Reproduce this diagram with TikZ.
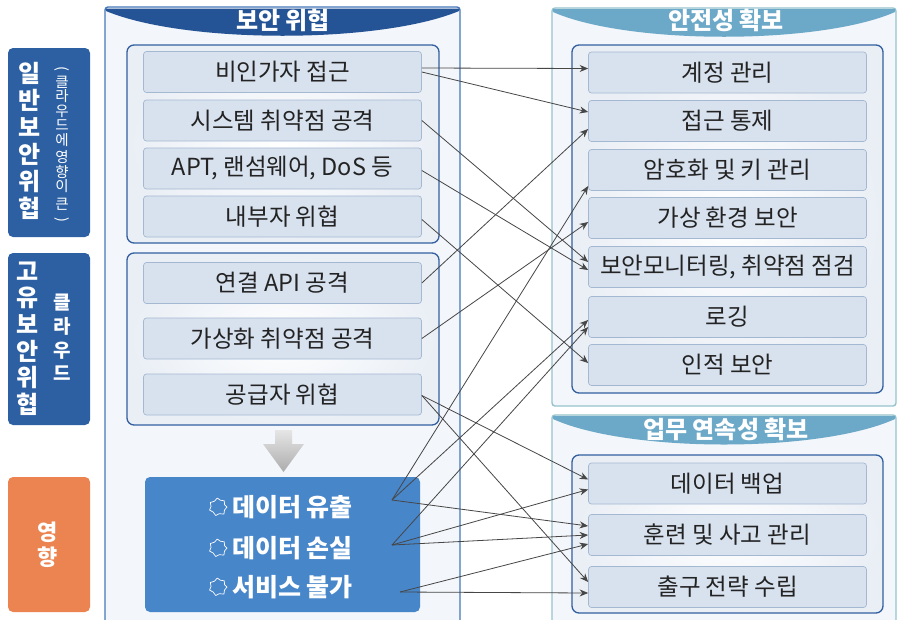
\documentclass[tikz,border=0pt]{standalone}
\usepackage{fontspec}
\usepackage{graphicx}
\setmainfont{Noto Sans CJK KR}
\usetikzlibrary{arrows.meta,calc}
\definecolor{lblblue}{RGB}{45,96,163}
\definecolor{lblorange}{RGB}{236,132,82}
\definecolor{midhdr}{RGB}{37,84,150}
\definecolor{midline}{RGB}{70,120,185}
\definecolor{rhdr}{RGB}{108,168,200}
\definecolor{rline}{RGB}{150,195,205}
\definecolor{panelfill}{RGB}{243,246,250}
\definecolor{grpfill}{RGB}{238,242,247}
\definecolor{grpline}{RGB}{50,95,160}
\definecolor{itemfill}{RGB}{216,226,239}
\definecolor{itemline}{RGB}{165,184,210}
\definecolor{impact}{RGB}{72,134,202}
\definecolor{txt}{RGB}{35,35,35}
\definecolor{arrowgray}{RGB}{70,70,70}
\begin{document}
\begin{tikzpicture}[x=1pt,y=-1pt,
  item/.style={draw=itemline, fill=itemfill, rounded corners=3pt, line width=0.7pt,
    minimum width=278pt, minimum height=41pt, inner sep=0pt,
    font=\fontsize{23.5}{26}\selectfont, text=txt},
  grp/.style={draw=grpline, inner color=white, outer color=grpfill!80!itemfill, line width=1.3pt, rounded corners=7pt},
  lblbox/.style={rounded corners=5pt, minimum width=82pt, inner sep=0pt},
  vtext/.style={text=white, align=center, inner sep=0pt},
  hdrtext/.style={text=white, font=\bfseries\fontsize{24}{26}\selectfont, inner sep=0pt},
  imptxt/.style={text=white, font=\bfseries\fontsize{25}{27}\selectfont, inner sep=0pt, anchor=west},
  icon/.style={draw=white, line width=0.7pt, line join=round},
  conn/.style={draw=arrowgray, line width=0.8pt, -{Stealth[length=8.5pt,width=7pt]}}
]
\clip (0,0) rectangle (900,619);
\fill[white] (0,0) rectangle (900,619);

% left labels
\node[lblbox, fill=lblblue, minimum height=189pt] (L1) at (49,142.5) {};
\node[vtext, font=\bfseries\fontsize{24}{27}\selectfont] (L1a) at (30,140.5) {일\\반\\보\\안\\위\\협};
\node[vtext, font=\fontsize{14.5}{14.5}\selectfont] (L1b) at (62,145) {\rotatebox[origin=c]{-90}{(}\\클\\라\\우\\드\\에\\[3pt]영\\향\\이\\[3pt]큰\\\rotatebox[origin=c]{-90}{)}};
\node[lblbox, fill=lblblue, minimum height=172pt] (L2) at (49,339) {};
\node[vtext, font=\bfseries\fontsize{24}{26.6}\selectfont] (L2a) at (28,338.5) {고\\유\\보\\안\\위\\협};
\node[vtext, font=\bfseries\fontsize{19}{23.7}\selectfont] (L2b) at (62,337.5) {클\\라\\우\\드};
\node[lblbox, fill=lblorange, minimum height=135pt] (L3) at (49,544.5) {};
\node[vtext, font=\bfseries\fontsize{22}{25}\selectfont] (L3a) at (48,544.5) {영\\향};

% middle panel
\draw[draw=midline, fill=panelfill, line width=1.4pt, rounded corners=3pt] (105,7) rectangle (460,660);
\fill[midhdr] (106,8.5) -- (459,8.5) -- (459,11) .. controls (380,44) and (185,44) .. (106,11) -- cycle;
\node[hdrtext] (h1) at (283,20) {보안 위협};
\draw[grp] (127,45) rectangle (439,243);
\draw[grp] (127,253) rectangle (439,425);

% right panels
\draw[draw=rline, fill=panelfill, line width=1.4pt, rounded corners=3pt] (552,8) rectangle (896,406);
\fill[rhdr] (553,9) -- (895,9) -- (895,12) .. controls (820,45) and (628,45) .. (553,12) -- cycle;
\node[hdrtext] (h2) at (726,20) {안전성 확보};
\draw[grp] (572,45) rectangle (883,393);
\draw[draw=rline, fill=panelfill, line width=1.4pt, rounded corners=3pt] (552,415) rectangle (896,660);
\fill[rhdr] (553,416) -- (895,416) -- (895,419) .. controls (820,453) and (628,453) .. (553,419) -- cycle;
\node[hdrtext] (h3) at (726,429) {업무 연속성 확보};
\draw[grp] (572,455) rectangle (883,613);

% left items
\node[item] (a1) at (282.5,72) {비인가자 접근};
\node[item] (a2) at (282.5,120.5) {시스템 취약점 공격};
\node[item] (a3) at (282.5,168.5) {APT, 랜섬웨어, DoS 등};
\node[item] (a4) at (282.5,216.5) {내부자 위협};
\node[item] (b1) at (282.5,283) {연결 API 공격};
\node[item] (b2) at (282.5,338.5) {가상화 취약점 공격};
\node[item] (b3) at (282.5,394.5) {공급자 위협};

% right items
\node[item] (r1) at (727.5,72.5) {계정 관리};
\node[item] (r2) at (727.5,121) {접근 통제};
\node[item] (r3) at (727.5,170) {암호화 및 키 관리};
\node[item] (r4) at (727.5,218) {가상 환경 보안};
\node[item] (r5) at (727.5,267) {보안모니터링, 취약점 점검};
\node[item] (r6) at (727.5,317) {로깅};
\node[item] (r7) at (727.5,365) {인적 보안};
\node[item] (d1) at (727.5,483.5) {데이터 백업};
\node[item] (d2) at (727.5,535) {훈련 및 사고 관리};
\node[item] (d3) at (727.5,587) {출구 전략 수립};

% down arrow
\shade[top color=gray!20, bottom color=gray!65] (275,430) -- (292,430) -- (292,444) -- (304,444) -- (283.5,472) -- (263,444) -- (275,444) -- cycle;

% impact box
\node[fill=impact, rounded corners=5pt, minimum width=275pt, minimum height=135pt, inner sep=0pt] (imp) at (282.5,544.5) {};
\foreach \c/\y in {i1/507, i2/548, i3/587} {
  \coordinate (\c) at (218,\y);
  \draw[icon] ($(\c)+(0:9)$) -- ($(\c)+(25:7.2)$) -- ($(\c)+(50:9.2)$) -- ($(\c)+(80:6.8)$) -- ($(\c)+(105:8.8)$)
    -- ($(\c)+(135:7)$) -- ($(\c)+(160:9)$) -- ($(\c)+(185:7)$) -- ($(\c)+(210:8.9)$) -- ($(\c)+(240:6.8)$)
    -- ($(\c)+(265:9)$) -- ($(\c)+(290:7.2)$) -- ($(\c)+(315:8.8)$) -- ($(\c)+(340:7)$) -- cycle;
}
\node[imptxt] (t1) at (232,507) {데이터 유출};
\node[imptxt] (t2) at (232,548) {데이터 손실};
\node[imptxt] (t3) at (232,587) {서비스 불가};
\coordinate (e1) at (392,500);
\coordinate (e2) at (392,545);
\coordinate (e3) at (400,592);

% connectors
\draw[conn] ($(a1.east)+(0,-4)$) -- ($(r1.west)+(0,-4)$);
\draw[conn] (a1.east) -- ($(r2.west)+(0,-9)$);
\draw[conn] (a2.east) -- ($(r5.west)+(0,-5)$);
\draw[conn] ($(a3.east)+(0,2)$) -- ($(r5.west)+(0,3)$);
\draw[conn] ($(a4.east)+(0,3)$) -- ($(r7.west)+(0,-2)$);
\draw[conn] (b1.east) -- ($(r2.west)+(0,8)$);
\draw[conn] (b2.east) -- ($(r4.west)+(0,4)$);
\draw[conn] ($(b3.east)+(0,1)$) -- ($(d1.west)+(0,-4)$);
\draw[conn] ($(b3.east)+(0,1)$) -- ($(d3.west)+(0,-5)$);
\draw[conn] (e1) -- ($(r3.west)+(0,16)$);
\draw[conn] (e1) -- ($(r6.west)+(0,3)$);
\draw[conn] (e1) -- ($(d2.west)+(0,-9)$);
\draw[conn] (e2) -- ($(r6.west)+(0,10)$);
\draw[conn] (e2) -- ($(d1.west)+(0,6)$);
\draw[conn] (e2) -- (d2.west);
\draw[conn] (e3) -- ($(d2.west)+(0,9)$);
\draw[conn] (e3) -- ($(d3.west)+(0,6)$);
\end{tikzpicture}
\end{document}
